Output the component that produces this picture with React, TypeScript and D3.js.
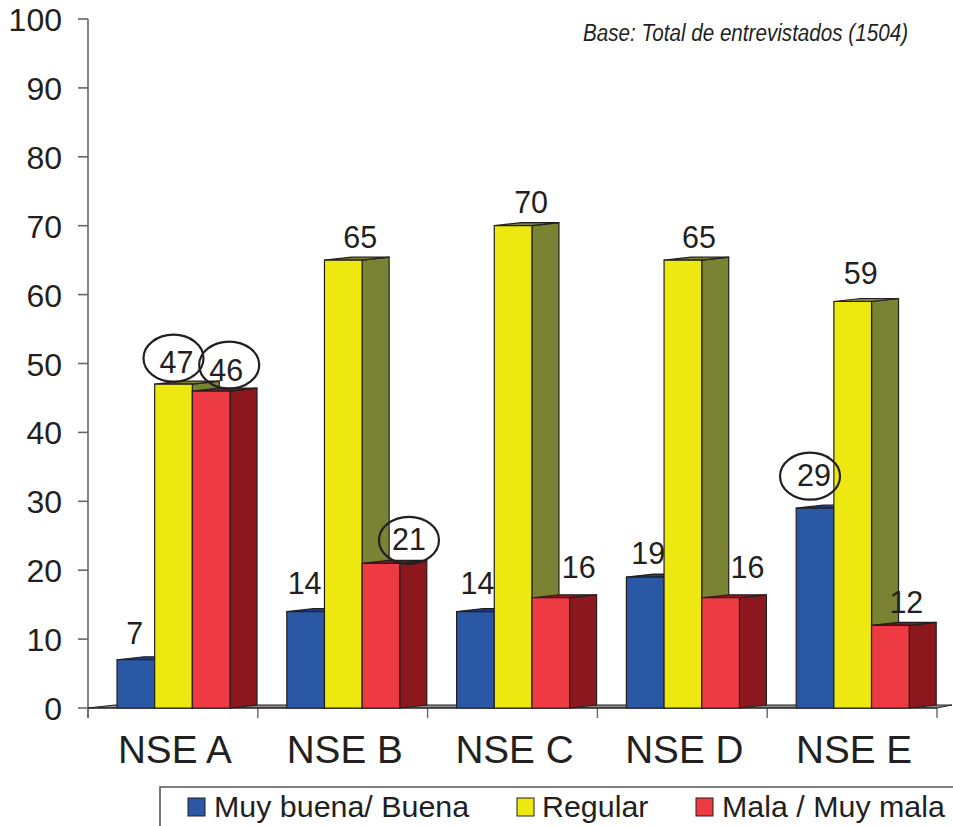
import React from "react";
import * as d3 from "d3";

const categories = ["NSE A", "NSE B", "NSE C", "NSE D", "NSE E"];
const seriesNames = ["Muy buena/ Buena", "Regular", "Mala / Muy mala"];
const muyBuena = [7, 14, 14, 19, 29];
const regular = [47, 65, 70, 65, 59];
const mala = [46, 21, 16, 16, 12];
const circledBuena = [false, false, false, false, true];
const circledRegular = [true, false, false, false, false];
const circledMala = [true, true, false, false, false];
const yTicks = [0, 10, 20, 30, 40, 50, 60, 70, 80, 90, 100];

// colours: front, side
const fronts = ["#2b58a5", "#eee811", "#ee3a43"];
const sides = ["#1f3f80", "#7a8333", "#8c171d"];
const INK = "#231f20";

// label nudges from bar centre (layout only)
const labelDx = [
  [-1, -1, 2, 3, -1],
  [3, 17, 18, 16, 8],
  [15, 28, 28, 27, 16],
];
const labelDy = [
  [-4, -6, -6, -2, -11],
  [0, -1, -1, -1, -6],
  [1, -2, -8, -8, -1],
];
const ellipseDx = [[0, 0, 0, 0, -5], [0, 0, 0, 0, 0], [18, 28, 0, 0, 0]];
const ellipseDy = [[0, 0, 0, 0, -9], [-3, 0, 0, 0, 0], [-3, 0, 0, 0, 0]];

const y = d3.scaleLinear().domain([0, 100]).range([708, 19]);
const x0 = d3.scaleBand<string>().domain(categories).range([88, 937]).paddingInner(0).paddingOuter(0);
const inner = d3.scaleBand<number>().domain([0, 1, 2]).range([29, 142]);
const DX = 27;
const DY = 3;

const seriesValues = [muyBuena, regular, mala];
const seriesCircled = [circledBuena, circledRegular, circledMala];

function Bar({ cat, s, v }: { cat: string; s: number; v: number }) {
  const bx = (x0(cat) as number) + (inner(s) as number);
  const w = inner.bandwidth();
  const top = y(v);
  const base = y(0);
  const sidePath = d3.path();
  sidePath.moveTo(bx + w, top);
  sidePath.lineTo(bx + w + DX, top - DY);
  sidePath.lineTo(bx + w + DX, base - DY);
  sidePath.lineTo(bx + w, base);
  sidePath.closePath();
  const topPath = d3.path();
  topPath.moveTo(bx, top);
  topPath.lineTo(bx + DX, top - DY);
  topPath.lineTo(bx + w + DX, top - DY);
  topPath.lineTo(bx + w, top);
  topPath.closePath();
  return (
    <g stroke={INK} strokeWidth={1.2} strokeLinejoin="round">
      <path d={sidePath.toString()} fill={sides[s]} />
      <path d={topPath.toString()} fill={sides[s]} />
      <rect x={bx} y={top} width={w} height={base - top} fill={fronts[s]} />
    </g>
  );
}

export default function App() {
  const w = inner.bandwidth();
  const floorY = y(0);
  const ticksBottom = [...categories.map((c) => x0(c) as number), x0.range()[1]];
  return (
    <svg
      width={953}
      height={826}
      style={{ position: "absolute", left: 0, top: 0, background: "#fff" }}
      fontFamily="'Liberation Sans', Arial, sans-serif"
    >
      {/* floor */}
      <path
        d={`M88,${floorY}L${88 + DX},${floorY - DY}L952,${floorY - DY}L937,${floorY}Z`}
        fill="#8f8f8f"
        stroke={INK}
        strokeWidth={1}
      />
      {/* y axis */}
      <line x1={88} x2={88} y1={y(100)} y2={718} stroke="#666" strokeWidth={1.6} />
      {yTicks.map((t) => (
        <g key={t}>
          <line x1={78} x2={88} y1={y(t)} y2={y(t)} stroke="#666" strokeWidth={1.6} />
          <text x={62} y={y(t) + 12} textAnchor="end" fontSize={32} fill={INK}>
            {t}
          </text>
        </g>
      ))}
      {/* x axis */}
      {ticksBottom.map((t) => (
        <line key={t} x1={t} x2={t} y1={floorY} y2={718} stroke="#666" strokeWidth={1.4} />
      ))}
      <line x1={88} x2={937} y1={floorY} y2={floorY} stroke={INK} strokeWidth={1.2} />
      {/* bars */}
      {categories.map((c, i) => (
        <g key={c}>
          {seriesValues.map((vals, s) => (
            <Bar key={s} cat={c} s={s} v={vals[i]} />
          ))}
        </g>
      ))}
      {/* value labels */}
      {categories.map((c, i) =>
        seriesValues.map((vals, s) => {
          const cx = (x0(c) as number) + (inner(s) as number) + w / 2;
          const ty = y(vals[i]) - 12;
          const lx = cx + labelDx[s][i];
          return (
            <g key={c + s}>
              {seriesCircled[s][i] && (
                <ellipse
                  cx={cx + ellipseDx[s][i]}
                  cy={ty - 11 + ellipseDy[s][i]}
                  rx={30}
                  ry={23.5}
                  fill="none"
                  stroke={INK}
                  strokeWidth={2.2}
                />
              )}
              <text x={lx} y={ty + labelDy[s][i] + 0.5} textAnchor="middle" fontSize={30.5} fill={INK}>
                {vals[i]}
              </text>
            </g>
          );
        })
      )}
      {/* category labels */}
      {categories.map((c) => (
        <text
          key={c}
          x={(x0(c) as number) + x0.bandwidth() / 2 + 2}
          y={763}
          textAnchor="middle"
          fontSize={38.7}
          fill={INK}
        >
          {c}
        </text>
      ))}
      {/* note */}
      <text x={583} y={41} fontSize={23.5} fontStyle="italic" fill={INK} textLength={325} lengthAdjust="spacingAndGlyphs">
        Base: Total de entrevistados (1504)
      </text>
      {/* legend */}
      <path d="M953,787H160V826" fill="none" stroke="#555" strokeWidth={1.6} />
      {seriesNames.map((n, s) => {
        const sx = [188, 517, 696][s];
        const tx = [214, 542, 722][s];
        return (
          <g key={n}>
            <rect x={sx} y={798} width={17} height={18} fill={fronts[s]} stroke={INK} strokeWidth={1} />
            <text x={tx} y={817} fontSize={30.4} fill={INK}>
              {n}
            </text>
          </g>
        );
      })}
    </svg>
  );
}
